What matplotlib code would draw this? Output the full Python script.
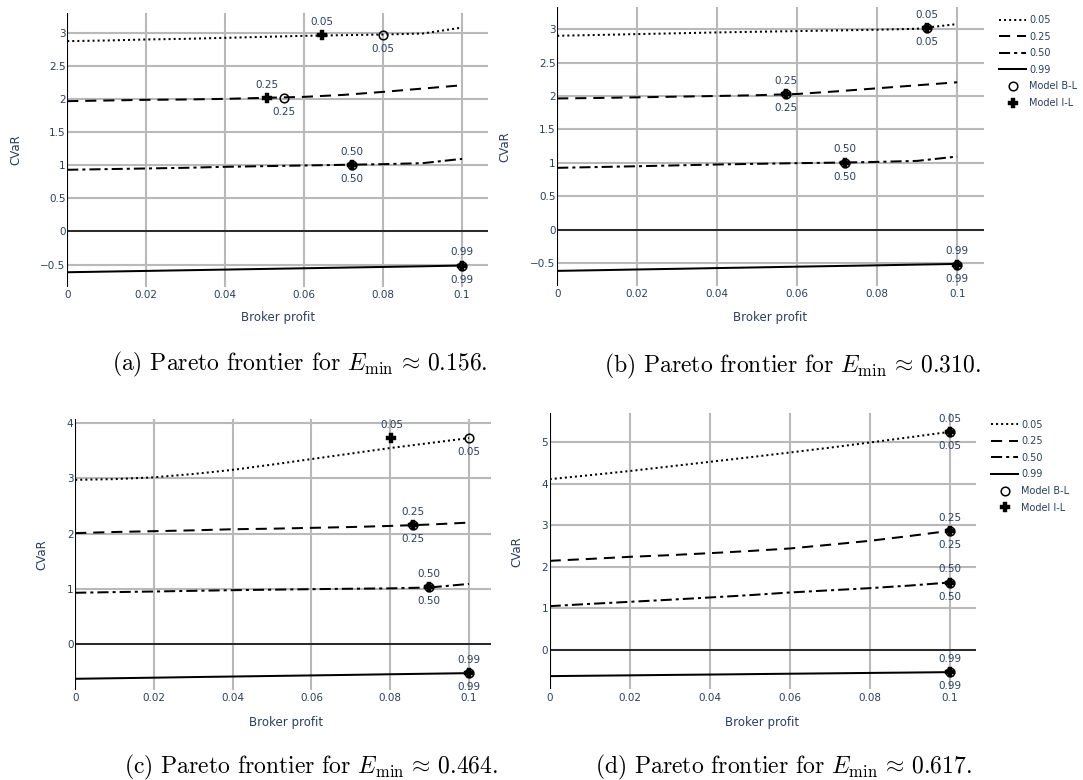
import matplotlib
matplotlib.use("Agg")
import matplotlib.pyplot as plt
from matplotlib.lines import Line2D
from matplotlib.ticker import FuncFormatter

plt.rcParams['font.family'] = ['DejaVu Sans']
plt.rcParams['mathtext.fontset'] = 'cm'
plt.rcParams['lines.scale_dashes'] = False

# ---------------- data ----------------
broker_profit = [0.0, 0.01, 0.02, 0.03, 0.04, 0.05, 0.06, 0.07, 0.08, 0.09, 0.1]
levels = ["0.05", "0.25", "0.50", "0.99"]

# panel (a)  E_min ~ 0.156
a_cvar_005 = [2.87, 2.88, 2.895, 2.905, 2.92, 2.935, 2.95, 2.96, 2.97, 2.985, 3.075]
a_cvar_025 = [1.965, 1.975, 1.985, 1.99, 2.0, 2.015, 2.03, 2.06, 2.105, 2.155, 2.205]
a_cvar_050 = [0.93, 0.94, 0.95, 0.96, 0.975, 0.985, 0.995, 1.005, 1.015, 1.03, 1.095]
a_cvar_099 = [-0.615, -0.605, -0.595, -0.585, -0.575, -0.565, -0.555, -0.545, -0.535, -0.525, -0.514]
a_bl_x = [0.08, 0.055, 0.0722, 0.1]
a_bl_y = [2.965, 2.02, 1.0, -0.515]
a_il_x = [0.0645, 0.0505, 0.072, 0.1]
a_il_y = [2.96, 2.015, 1.0, -0.515]

# panel (b)  E_min ~ 0.310
b_cvar_005 = [2.90, 2.912, 2.925, 2.937, 2.95, 2.96, 2.97, 2.98, 2.99, 3.005, 3.075]
b_cvar_025 = [1.963, 1.97, 1.98, 1.99, 2.0, 2.012, 2.03, 2.07, 2.115, 2.16, 2.205]
b_cvar_050 = [0.926, 0.938, 0.95, 0.963, 0.976, 0.986, 0.996, 1.004, 1.015, 1.03, 1.095]
b_cvar_099 = [-0.614, -0.604, -0.593, -0.583, -0.572, -0.562, -0.551, -0.541, -0.531, -0.52, -0.51]
b_bl_x = [0.0925, 0.0572, 0.072, 0.1]
b_bl_y = [3.01, 2.025, 1.005, -0.52]
b_il_x = [0.0925, 0.0572, 0.072, 0.1]
b_il_y = [3.01, 2.025, 1.005, -0.52]

# panel (c)  E_min ~ 0.464
c_cvar_005 = [2.974, 2.987, 3.02, 3.08, 3.155, 3.25, 3.35, 3.45, 3.55, 3.64, 3.73]
c_cvar_025 = [2.01, 2.03, 2.045, 2.06, 2.08, 2.09, 2.105, 2.12, 2.14, 2.165, 2.20]
c_cvar_050 = [0.93, 0.942, 0.953, 0.965, 0.977, 0.986, 0.995, 1.003, 1.01, 1.026, 1.09]
c_cvar_099 = [-0.627, -0.617, -0.607, -0.596, -0.586, -0.576, -0.566, -0.556, -0.545, -0.535, -0.525]
c_bl_x = [0.1, 0.0858, 0.0898, 0.1]
c_bl_y = [3.73, 2.155, 1.03, -0.525]
c_il_x = [0.0803, 0.0858, 0.0898, 0.1]
c_il_y = [3.73, 2.155, 1.03, -0.525]

# panel (d)  E_min ~ 0.617
d_cvar_005 = [4.104, 4.20, 4.30, 4.41, 4.52, 4.63, 4.744, 4.86, 4.984, 5.11, 5.24]
d_cvar_025 = [2.144, 2.19, 2.24, 2.28, 2.328, 2.38, 2.44, 2.53, 2.624, 2.74, 2.864]
d_cvar_050 = [1.056, 1.11, 1.16, 1.21, 1.264, 1.32, 1.384, 1.436, 1.488, 1.55, 1.624]
d_cvar_099 = [-0.624, -0.614, -0.605, -0.595, -0.586, -0.576, -0.566, -0.557, -0.547, -0.538, -0.528]
d_bl_x = [0.1, 0.1, 0.1, 0.1]
d_bl_y = [5.24, 2.86, 1.62, -0.528]
d_il_x = [0.1, 0.1, 0.1, 0.1]
d_il_y = [5.24, 2.86, 1.62, -0.528]

x_ticks = [0, 0.02, 0.04, 0.06, 0.08, 0.1]
captions = [r"(a) Pareto frontier for $E_{\min}\,\approx\,0.156.$",
            r"(b) Pareto frontier for $E_{\min}\,\approx\,0.310.$",
            r"(c) Pareto frontier for $E_{\min}\,\approx\,0.464.$",
            r"(d) Pareto frontier for $E_{\min}\,\approx\,0.617.$"]

# ---------------- style ----------------
W, H = 1083, 780
fig = plt.figure(figsize=(W / 100, H / 100), dpi=100)
TXT = '#2a3f5f'
GRID = '#b9b9b9'
styles = [(0, (1.45, 2.2)), (0, (8, 5)), (0, (8, 2.9, 2.2, 2.9)), '-']


def px_axes(left, top, right, bottom):
    return fig.add_axes([left / W, 1 - bottom / H, (right - left) / W, (bottom - top) / H])


fmt = FuncFormatter(lambda v, _: ('%g' % round(v, 6)).replace('-', '\u2212'))

panels = [
    dict(box=(67.2, 13.3, 488.0, 286.5), xmax=0.10656, ylim=(-0.83, 3.29),
         yticks=[-0.5, 0, 0.5, 1, 1.5, 2, 2.5, 3],
         series=[a_cvar_005, a_cvar_025, a_cvar_050, a_cvar_099],
         bl=(a_bl_x, a_bl_y), il=(a_il_x, a_il_y),
         ylab=(15.5, 150), xlab=(277.6, 317), cap=(300, 364)),
    dict(box=(557.2, 7.0, 983.8, 286.0), xmax=0.10665, ylim=(-0.84, 3.33),
         yticks=[-0.5, 0, 0.5, 1, 1.5, 2, 2.5, 3],
         series=[b_cvar_005, b_cvar_025, b_cvar_050, b_cvar_099],
         bl=(b_bl_x, b_bl_y), il=(b_il_x, b_il_y),
         ylab=(505, 147), xlab=(770.3, 317), cap=(792, 366)),
    dict(box=(75.2, 419.3, 491.4, 690.0), xmax=0.1057, ylim=(-0.83, 4.07),
         yticks=[0, 1, 2, 3, 4],
         series=[c_cvar_005, c_cvar_025, c_cvar_050, c_cvar_099],
         bl=(c_bl_x, c_bl_y), il=(c_il_x, c_il_y),
         ylab=(41.4, 555), xlab=(286.2, 722.7), cap=(311, 767)),
    dict(box=(549.7, 412.7, 976.2, 689.3), xmax=0.10665, ylim=(-0.94, 5.70),
         yticks=[0, 1, 2, 3, 4, 5],
         series=[d_cvar_005, d_cvar_025, d_cvar_050, d_cvar_099],
         bl=(d_bl_x, d_bl_y), il=(d_il_x, d_il_y),
         ylab=(517, 552), xlab=(762.4, 722.7), cap=(783, 767)),
]

for i, p in enumerate(panels):
    ax = px_axes(*p['box'])
    ax.set_xlim(0, p['xmax'])
    ax.set_ylim(*p['ylim'])
    ax.set_xticks(x_ticks)
    ax.set_yticks(p['yticks'])
    ax.xaxis.set_major_formatter(fmt)
    ax.yaxis.set_major_formatter(fmt)
    ax.tick_params(length=0, labelsize=7.5, labelcolor=TXT)
    ax.tick_params(axis='y', pad=1.2)
    ax.tick_params(axis='x', pad=2.5)
    for s in ax.spines.values():
        s.set_visible(False)
    ax.grid(True, color=GRID, lw=1.5, zorder=0)
    ax.set_axisbelow(True)
    ax.axhline(0, color='black', lw=1.1, zorder=1)
    ax.axvline(0, color='black', lw=1.5, zorder=1)
    for ys, ls in zip(p['series'], styles):
        ax.plot(broker_profit, ys, color='black', lw=1.45, linestyle=ls, zorder=2)
    blx, bly = p['bl']
    ilx, ily = p['il']
    ax.plot(blx, bly, linestyle='none', marker='o', ms=6.2, mfc='none', mec='black', mew=1.1, zorder=3)
    ax.plot(ilx, ily, linestyle='none', marker='P', ms=7.8, mfc='black', mec='black', mew=0.3, zorder=4)
    for x, y, lab in zip(blx, bly, levels):
        ax.annotate(lab, (x, y), xytext=(0, -6.5), textcoords='offset points',
                    ha='center', va='top', fontsize=7.5, color=TXT, zorder=5)
    for x, y, lab in zip(ilx, ily, levels):
        ax.annotate(lab, (x, y), xytext=(0, 6.0), textcoords='offset points',
                    ha='center', va='bottom', fontsize=7.5, color=TXT, zorder=5)
    fig.text(p['ylab'][0] / W, 1 - p['ylab'][1] / H, 'CVaR', rotation=90, ha='center', va='center',
             fontsize=8.5, color=TXT)
    fig.text(p['xlab'][0] / W, 1 - p['xlab'][1] / H, 'Broker profit', ha='center', va='center',
             fontsize=8.5, color=TXT)
    fig.text(p['cap'][0] / W, 1 - p['cap'][1] / H, captions[i], ha='center', va='center',
             fontsize=17, family='cmr10', color='black')

# legends for (b) and (d)
handles = [Line2D([], [], color='black', lw=1.45, linestyle=ls) for ls in styles]
handles += [Line2D([], [], linestyle='none', marker='o', ms=6.2, mfc='none', mec='black', mew=1.1),
            Line2D([], [], linestyle='none', marker='P', ms=7.8, mfc='black', mec='black', mew=0.3)]
labels = levels + ["Model B-L", "Model I-L"]
for (lx, ly) in [(999, 15), (991, 419.5)]:
    fig.legend(handles, labels, loc='upper left', bbox_to_anchor=(lx / W, 1 - ly / H),
               frameon=False, fontsize=7, labelcolor=TXT, handlelength=2.8, handletextpad=0.3,
               labelspacing=0.68, borderpad=0, borderaxespad=0, numpoints=1)

fig.savefig('out.png', dpi=100)
